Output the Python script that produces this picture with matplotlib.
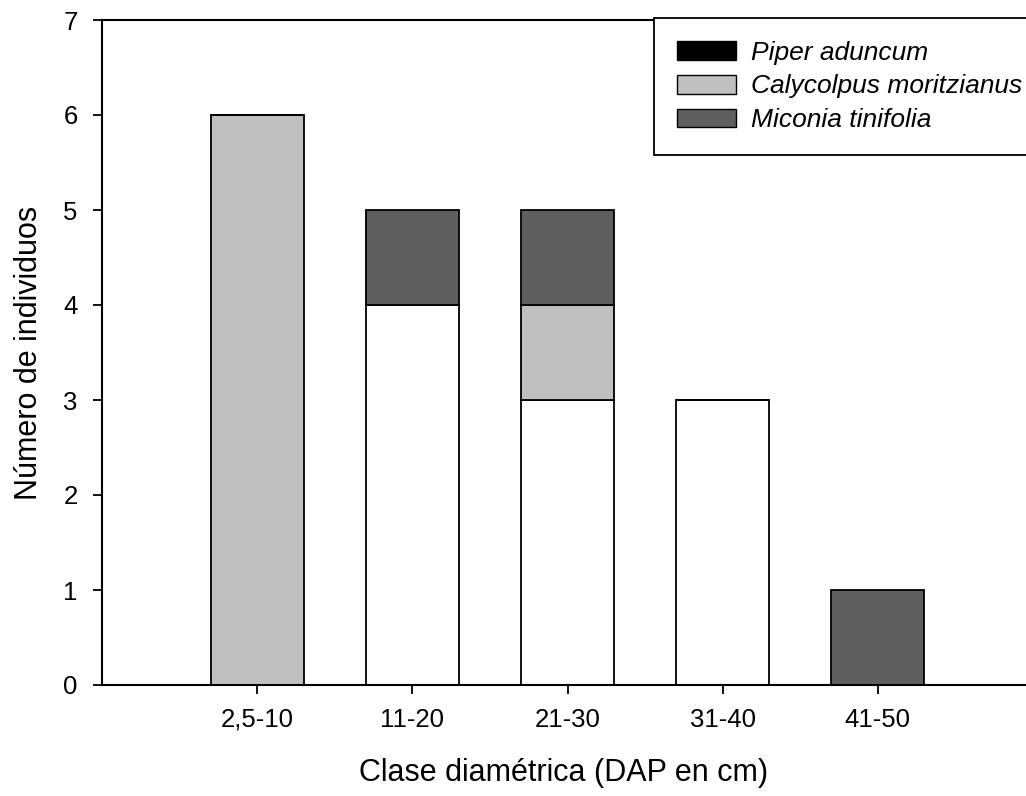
import matplotlib.pyplot as plt
from matplotlib.patches import Patch

plt.rcParams['font.family'] = ['Liberation Sans', 'DejaVu Sans']

# Datos
clases = ["2,5-10", "11-20", "21-30", "31-40", "41-50"]
piper = [0, 4, 3, 3, 0]
calycolpus = [6, 0, 1, 0, 0]
miconia = [0, 1, 1, 0, 1]

x = list(range(1, len(clases) + 1))
base2 = [a + b for a, b in zip(piper, calycolpus)]

fig = plt.figure(figsize=(10.26, 7.96), dpi=100)
# el eje x sigue un poco más allá del borde derecho de la imagen
ax = fig.add_axes([102 / 1026, 1 - 685 / 796, 931 / 1026, (685 - 20) / 796])

w = 0.6
ax.bar(x, piper, w, color="white", edgecolor="black", linewidth=1.3)
ax.bar(x, calycolpus, w, bottom=piper, color="#c0c0c0", edgecolor="black", linewidth=1.3)
ax.bar(x, miconia, w, bottom=base2, color="#5f5f5f", edgecolor="black", linewidth=1.3)

ax.set_xlim(0, 6)
ax.set_ylim(0, 7)
ax.set_xticks(x)
ax.set_xticklabels(clases)
ax.set_yticks(range(0, 8))
ax.tick_params(direction="out", length=6.5, width=1.3, labelsize=18.5, pad=10)
ax.tick_params(axis="y", pad=11)
ax.spines["right"].set_visible(False)
for s in ["left", "bottom", "top"]:
    ax.spines[s].set_linewidth(1.5)

ax.set_xlabel("Clase diamétrica (DAP en cm)", fontsize=22)
ax.set_ylabel("Número de individuos", fontsize=22, labelpad=14)
ax.xaxis.set_label_coords(462 / 931, -0.11)

handles = [
    Patch(facecolor="black", edgecolor="black", label="Piper aduncum"),
    Patch(facecolor="#c0c0c0", edgecolor="black", label="Calycolpus moritzianus"),
    Patch(facecolor="#5f5f5f", edgecolor="black", label="Miconia tinifolia"),
]
leg = fig.legend(handles=handles, loc="upper left",
                 bbox_to_anchor=(654 / 1026, 1 - 18 / 796),
                 prop={"size": 19, "style": "italic"}, fancybox=False,
                 framealpha=1, edgecolor="black", handlelength=2.23,
                 handleheight=0.72, handletextpad=0.57, labelspacing=0.37,
                 borderpad=0.86, borderaxespad=0)
leg.get_frame().set_linewidth(1.3)

fig.savefig("out.png", dpi=100)
